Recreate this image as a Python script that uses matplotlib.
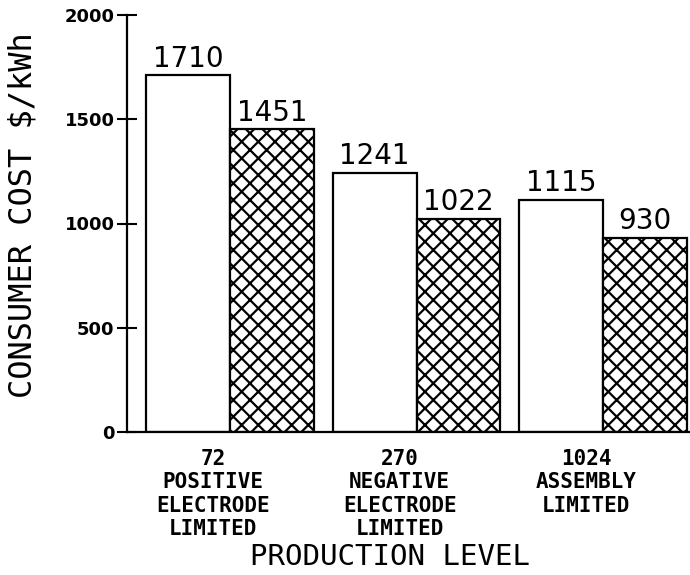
import matplotlib.pyplot as plt
import numpy as np

# data
groups = ['72\nPOSITIVE\nELECTRODE\nLIMITED', '270\nNEGATIVE\nELECTRODE\nLIMITED', '1024\nASSEMBLY\nLIMITED']
cost_open = [1710, 1241, 1115]
cost_hatched = [1451, 1022, 930]
y_ticks = [0, 500, 1000, 1500, 2000]

plt.rcParams['hatch.linewidth'] = 1.6
mono = 'DejaVu Sans Mono'

fig = plt.figure(figsize=(6.9, 5.75), dpi=100)
ax = fig.add_axes([127 / 690, 143 / 575, 563 / 690, 417 / 575])

x = np.arange(len(groups))
w = 0.448
b1 = ax.bar(x - w / 2, cost_open, w, color='white', edgecolor='black', linewidth=1.6)
b2 = ax.bar(x + w / 2, cost_hatched, w, color='white', edgecolor='black', linewidth=1.6, hatch='xx')

# value labels above bars
for bars, vals in ((b1, cost_open), (b2, cost_hatched)):
    for rect, v in zip(bars, vals):
        ax.annotate(str(v), (rect.get_x() + rect.get_width() / 2, v), xytext=(0, 2),
                    textcoords='offset points', ha='center', va='bottom', fontsize=20)

ax.set_xlim(-0.552, 2.466)
ax.set_ylim(0, 2000)
ax.set_yticks(y_ticks)
ax.tick_params(axis='y', direction='inout', length=14, width=1.5, pad=2, labelsize=13)
for lab in ax.get_yticklabels():
    lab.set_fontweight('bold')

ax.set_xticks(x - 0.09)
ax.set_xticklabels(groups, fontsize=15, fontweight='bold', family=mono, linespacing=1.22)
ax.tick_params(axis='x', length=0, pad=12)

ax.spines['top'].set_visible(False)
ax.spines['right'].set_visible(False)
ax.spines['left'].set_linewidth(1.6)
ax.spines['bottom'].set_linewidth(1.6)

ax.set_ylabel('CONSUMER COST $/kWh', fontsize=23, family=mono)
ax.yaxis.set_label_coords(-0.158, 0.52)
ax.set_xlabel('PRODUCTION LEVEL', fontsize=21, family=mono, va='baseline')
ax.xaxis.set_label_coords(0.467, -0.319)

fig.savefig('out.png', dpi=100)
